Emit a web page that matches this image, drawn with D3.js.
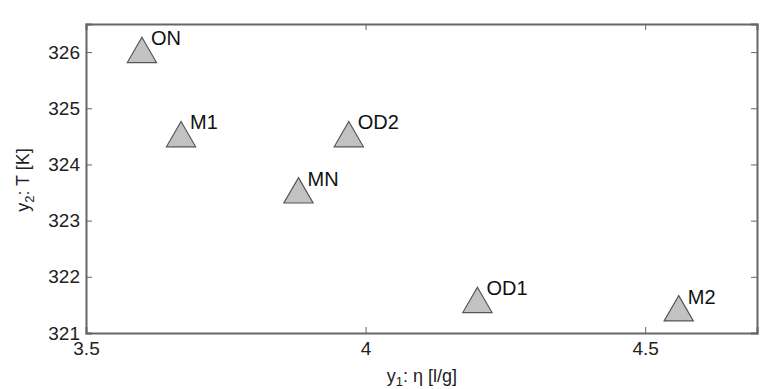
<!DOCTYPE html>
<html>
<head>
<meta charset="utf-8">
<script src="https://cdn.jsdelivr.net/npm/d3@7"></script>
<style>
  body { margin: 0; background: #fff; }
  svg { font-family: "Liberation Sans", Arial, sans-serif; }
  .axis path, .axis line { stroke: #666; }
  .axis text { fill: #222; font-size: 19px; }
</style>
</head>
<body>
<svg></svg>
<script>
var width = 780;
var height = 389;
var margin = { top: 24, right: 23, bottom: 56, left: 86 };

// data
var names = ["ON", "M1", "OD2", "MN", "OD1", "M2"];
var etaValues = [3.60, 3.67, 3.97, 3.88, 4.20, 4.56];
var tempValues = [326.0, 324.5, 324.5, 323.5, 321.55, 321.4];
var xTicks = [3.5, 4, 4.5];
var yTicks = [321, 322, 323, 324, 325, 326];

var points = names.map((n, i) => ({ name: n, eta: etaValues[i], temp: tempValues[i] }));

var svg = d3.select("svg")
    .attr("width", width)
    .attr("height", height);

var x = d3.scaleLinear()
    .domain([3.5, 4.7])
    .range([margin.left, width - margin.right]);

var y = d3.scaleLinear()
    .domain([321, 326.5])
    .range([height - margin.bottom, margin.top]);

svg.append("g")
    .classed("axis", true)
    .attr("transform", `translate(0, ${height - margin.bottom})`)
    .call(d3.axisBottom(x).tickValues(xTicks).tickSize(-6).tickPadding(9)
      .tickFormat(d3.format("")));

svg.append("g")
    .classed("axis", true)
    .attr("transform", `translate(0, ${margin.top})`)
    .call(d3.axisTop(x).tickValues(xTicks).tickSize(-6).tickFormat(""));

svg.append("g")
    .classed("axis", true)
    .attr("transform", `translate(${margin.left}, 0)`)
    .call(d3.axisLeft(y).tickValues(yTicks).tickSize(-6).tickPadding(6)
      .tickFormat(d3.format("d")));

svg.append("g")
    .classed("axis", true)
    .attr("transform", `translate(${width - margin.right}, 0)`)
    .call(d3.axisRight(y).tickValues(yTicks).tickSize(-6).tickFormat(""));

svg.selectAll(".axis .domain")
    .attr("stroke-width", 2);

var triangle = d3.symbol().type(d3.symbolTriangle).size(370);

var pts = svg.append("g")
  .selectAll("g")
  .data(points)
  .enter()
  .append("g")
    .attr("transform", d => `translate(${x(d.eta)}, ${y(d.temp)})`);

pts.append("path")
    .attr("d", triangle)
    .attr("transform", "translate(0, 2)")
    .attr("fill", "#c2c2c2")
    .attr("stroke", "#555")
    .attr("stroke-width", 1.2);

pts.append("text")
    .attr("x", 9)
    .attr("y", -7)
    .style("font-size", "20px")
    .style("fill", "#111")
    .text(d => d.name);

// axis titles
var xTitle = svg.append("text")
    .attr("x", 422)
    .attr("y", 382)
    .style("text-anchor", "middle")
    .style("font-size", "18px")
    .style("fill", "#222");
xTitle.append("tspan").text("y");
xTitle.append("tspan").attr("dy", 4).style("font-size", "13px").text("1");
xTitle.append("tspan").attr("dy", -4).text(": η [l/g]");

var yTitle = svg.append("text")
    .attr("transform", "translate(29, 180) rotate(-90)")
    .style("text-anchor", "middle")
    .style("font-size", "18px")
    .style("fill", "#222");
yTitle.append("tspan").text("y");
yTitle.append("tspan").attr("dy", 5).style("font-size", "13px").text("2");
yTitle.append("tspan").attr("dy", -5).text(": T [K]");
</script>
</body>
</html>
